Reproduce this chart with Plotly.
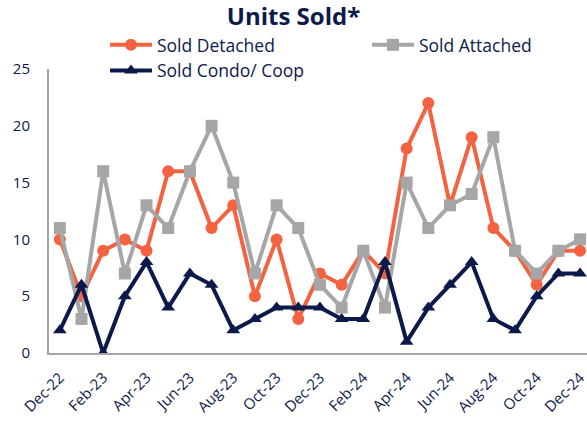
import plotly.graph_objects as go

months = ["Dec-22","Jan-23","Feb-23","Mar-23","Apr-23","May-23","Jun-23","Jul-23","Aug-23","Sep-23",
          "Oct-23","Nov-23","Dec-23","Jan-24","Feb-24","Mar-24","Apr-24","May-24","Jun-24","Jul-24",
          "Aug-24","Sep-24","Oct-24","Nov-24","Dec-24"]
detached = [10,5,9,10,9,16,16,11,13,5,10,3,7,6,9,7,18,22,13,19,11,9,6,9,9]
attached = [11,3,16,7,13,11,16,20,15,7,13,11,6,4,9,4,15,11,13,14,19,9,7,9,10]
condo = [2,6,0,5,8,4,7,6,2,3,4,4,4,3,3,8,1,4,6,8,3,2,5,7,7]
tick_labels = months[::2]

navy = "#0C1A4B"
orange = "#F4623F"
gray = "#A6A6A6"
font = "Open Sans"

fig = go.Figure()
fig.add_trace(go.Scatter(x=months, y=detached, name="Sold Detached", mode="lines+markers", legend="legend",
                         line=dict(color=orange, width=4), marker=dict(symbol="circle", size=12, color=orange)))
fig.add_trace(go.Scatter(x=months, y=attached, name="Sold Attached", mode="lines+markers", legend="legend2",
                         line=dict(color=gray, width=4), marker=dict(symbol="square", size=12, color=gray)))
fig.add_trace(go.Scatter(x=months, y=condo, name="Sold Condo/ Coop", mode="lines+markers", legend="legend",
                         line=dict(color=navy, width=4), marker=dict(symbol="triangle-up", size=12, color=navy)))

leg_common = dict(orientation="v", yanchor="top", font=dict(size=17.5, color=navy, family=font),
                  bgcolor="rgba(0,0,0,0)", traceorder="normal", tracegroupgap=0, itemwidth=42)

fig.update_layout(
    width=587, height=423,
    margin=dict(l=49, r=0, t=69, b=70),
    paper_bgcolor="white", plot_bgcolor="white",
    font=dict(family=font, color=navy, size=14),
    title=dict(text="<b>Units Sold*</b>", x=0.5, xref="container", xanchor="center", y=0.96, yanchor="middle",
               font=dict(size=24, color=navy, family=font)),
    showlegend=True,
    legend=dict(x=0.104, xanchor="left", y=1.148, **leg_common),
    legend2=dict(x=0.591, xanchor="left", y=1.148, **leg_common),
    xaxis=dict(type="category", categoryorder="array", categoryarray=months,
               tickmode="array", tickvals=tick_labels, ticktext=tick_labels, tickangle=-45,
               range=[-0.5, 24.32], showgrid=False, showline=True, linecolor="#A6A6A6", linewidth=2,
               ticks="", ticklabelstandoff=8, tickfont=dict(size=15, color=navy), zeroline=False),
    yaxis=dict(range=[0, 25], tickvals=[0,5,10,15,20,25], showgrid=False, showline=True,
               linecolor="#A6A6A6", linewidth=2, ticks="", ticklabelstandoff=14,
               tickfont=dict(size=15, color=navy), zeroline=False),
)

fig.write_html("out.html")
